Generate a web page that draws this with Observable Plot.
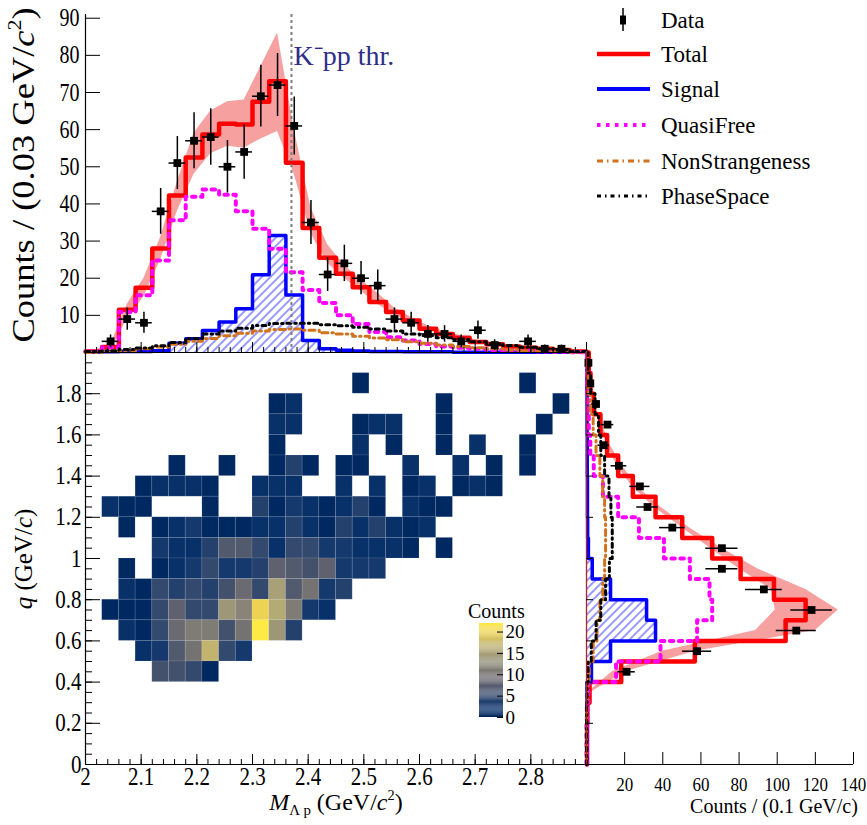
<!DOCTYPE html>
<html><head><meta charset="utf-8">
<script src="https://cdn.jsdelivr.net/npm/d3@7"></script>
<script src="https://cdn.jsdelivr.net/npm/@observablehq/plot@0.6"></script>
<style>
body{margin:0;background:#fff;}
#wrap{position:relative;width:867px;height:825px;overflow:hidden;font-family:'Liberation Serif','Times New Roman',serif;background:#fff;}
.t{position:absolute;white-space:nowrap;color:#000;line-height:1;font-family:'Liberation Serif','Times New Roman',serif;}
</style></head><body><div id="wrap"></div>
<script>
// ---------------- data ----------------
// M(Λp) projection: 30 bins of 0.03 GeV/c^2 from 2.00 to 2.90
const mCenters = [2.015,2.045,2.075,2.105,2.135,2.165,2.195,2.225,2.255,2.285,2.315,2.345,2.375,2.405,2.435,2.465,2.495,2.525,2.555,2.585,2.615,2.645,2.675,2.705,2.735,2.765,2.795,2.825,2.855,2.885];
const mData      = [0,3,9,8,38,51,57,58,50,54,69,72,61,35,21,24,20,18,9,8,5,5,3,6,2,0,3,1,1,0];
const mTotal     = [0.3,1.5,11.5,17.4,28,42.3,52.5,58.7,61.6,61.4,67.5,73,51.1,33.5,25.5,21.2,17.6,13.6,10.9,8.6,6.4,5.0,4.0,2.8,2.2,1.6,1.3,1.0,0.7,0.3];
const mBandLo    = [0,0.5,9,15,25,38,48,53.5,55.5,55,57.5,59.5,48,32,24,20,16.5,13,10,8,6,4.5,3.5,2.5,1.9,1.4,1.1,0.8,0.5,0.1];
const mBandHi    = [0.5,2,13,20,31,46,59,65,67.5,68,77,86,60,39,29,23.5,19.5,16,12,9.5,7.2,5.6,4.5,3.2,2.6,1.9,1.5,1.2,0.9,0.5];
const mSignal    = [0.1,0.2,0.3,0.3,0.5,2.5,3.7,5.9,8.2,11.8,20.9,31.5,15.5,3.2,1.0,0.6,0.4,0.3,0.3,0.2,0.2,0.2,0.1,0.1,0.1,0.1,0.1,0.1,0.1,0.1];
const mQuasiFree = [0.3,1.4,10.9,15.4,24.8,35.6,41.9,43.9,42.5,38.0,33.3,27.9,21.6,16.8,13.3,10,7.7,5.5,4.1,3.2,2.3,1.6,1.3,1.0,0.7,0.5,0.4,0.3,0.2,0.1];
const mNonStrange= [0,0.2,0.5,1.0,1.5,2.2,3.0,3.8,4.5,5.2,5.8,6.2,6.3,6.0,5.3,5.0,4.4,3.9,3.4,2.9,2.5,2.0,1.6,1.3,1.0,0.7,0.5,0.3,0.2,0.1];
const mPhaseSpace= [0.3,0.5,0.8,1.2,1.8,2.7,3.8,5.0,5.8,6.5,7.3,7.8,7.9,7.9,7.5,7.2,6.8,6.3,5.8,5.0,4.6,4.0,3.5,2.9,2.4,1.9,1.4,1.0,0.7,0.3];

// q projection: 20 bins of 0.1 GeV/c from 0 to 2
const qCenters = [0.05,0.15,0.25,0.35,0.45,0.55,0.65,0.75,0.85,0.95,1.05,1.15,1.25,1.35,1.45,1.55,1.65,1.75,1.85,1.95];
const qData      = [0,0,0,0,21,58,110,118,93,71,71,45,32,28,17,9,11,5,2,1];
const qTotal     = [0.3,0.3,0.5,1.6,18.2,56.8,104.4,114.9,98.3,80.8,65.9,50.2,36.2,24.3,16.6,10.8,7.3,3.8,2.1,1.2];
const qBandLo    = [0,0,0.2,0.8,13.5,39.7,88.7,99,97,80,65,50,35.3,24,16,10.8,7.3,3.8,2,1];
const qBandHi    = [0.5,0.5,0.8,2.0,20.5,57.2,120,132,115,89.6,71,53.7,38.8,26.6,18.7,12.5,8.2,4.6,2.4,1.4];
const qSignal    = [0.2,0.2,0.2,0.3,2.6,12.6,36.2,31.5,12.6,3.0,1.0,0.6,0.5,0.5,0.4,0.4,0.3,0.3,0.2,0.2];
const qQuasiFree = [0,0,0.2,1.0,15.5,38.8,58,65.9,64.5,54.2,40.6,27.5,16.6,8.6,3.8,2.0,1.2,0.6,0.3,0.2];
const qNonStrange= [0,0,0.1,0.5,1.5,3.5,5.5,7,8.5,9.5,10,10,9.5,8.5,7,5,3.5,2,1,0.3];
const qPhaseSpace= [0,0,0,0.3,0.8,2.5,5,7.5,10,12,13.5,13.5,12.8,11.8,9.5,7.5,6.3,4.5,2.2,0.8];

// 2D histogram counts: rows from q = 1.9-2.0 (top) down to q = 0.0-0.1, 30 M bins each
const hist2d = [
 [0,0,0,0,0,0,0,0,0,0, 0,0,0,0,0,0,0,0,0,0, 0,0,0,0,0,0,0,0,0,0],
 [0,0,0,0,0,0,0,0,0,0, 0,0,0,0,0,0,1,0,0,0, 0,0,0,0,0,0,1,0,0,0],
 [0,0,0,0,0,0,0,0,0,0, 0,1,2,0,0,0,0,0,0,0, 0,1,0,0,0,0,0,0,1,0],
 [0,0,0,0,0,0,0,0,0,0, 0,2,2,0,0,0,1,2,2,0, 0,1,0,0,0,0,0,1,0,0],
 [0,0,0,0,0,0,0,0,0,0, 0,1,0,0,0,0,2,0,1,0, 0,1,0,2,0,0,1,0,0,0],
 [0,0,0,0,0,1,0,0,1,0, 0,1,4,1,0,1,1,0,0,2, 0,0,2,0,1,0,1,0,0,0],
 [0,0,0,1,2,2,2,1,0,0, 2,2,2,0,0,2,0,2,0,1, 2,0,1,2,1,0,0,0,0,0],
 [0,2,1,1,0,0,0,1,0,0, 4,1,3,2,1,2,4,1,0,2, 1,1,0,0,0,0,0,0,0,0],
 [0,0,1,0,1,2,3,1,1,1, 2,2,4,2,1,4,2,4,2,1, 2,0,0,0,0,0,0,0,0,0],
 [0,0,0,0,3,2,2,4,7,7, 5,2,5,5,3,3,2,2,2,1, 0,1,0,0,0,0,0,0,0,0],
 [0,0,1,0,1,2,3,5,3,3, 4,8,7,6,8,3,3,3,0,0, 0,0,0,0,0,0,0,0,0,0],
 [0,0,2,1,5,4,5,4,6,9, 5,15,7,10,3,4,0,0,0,0, 0,0,0,0,0,0,0,0,0,0],
 [0,1,1,1,5,8,5,5,14,12, 20,16,11,3,2,0,0,0,0,0, 0,0,0,0,0,0,0,0,0,0],
 [0,0,2,1,5,9,11,11,6,10, 22,14,4,0,0,0,0,0,0,0, 0,0,0,0,0,0,0,0,0,0],
 [0,0,0,2,3,7,10,17,5,3, 0,0,0,0,0,0,0,0,0,0, 0,0,0,0,0,0,0,0,0,0],
 [0,0,0,0,6,6,5,1,0,0, 0,0,0,0,0,0,0,0,0,0, 0,0,0,0,0,0,0,0,0,0],
 [0,0,0,0,0,0,0,0,0,0, 0,0,0,0,0,0,0,0,0,0, 0,0,0,0,0,0,0,0,0,0],
 [0,0,0,0,0,0,0,0,0,0, 0,0,0,0,0,0,0,0,0,0, 0,0,0,0,0,0,0,0,0,0],
 [0,0,0,0,0,0,0,0,0,0, 0,0,0,0,0,0,0,0,0,0, 0,0,0,0,0,0,0,0,0,0],
 [0,0,0,0,0,0,0,0,0,0, 0,0,0,0,0,0,0,0,0,0, 0,0,0,0,0,0,0,0,0,0]
];

// ticks and labels
const topYTicks  = [10,20,30,40,50,60,70,80,90];
const mMajorTicks= [2.0,2.1,2.2,2.3,2.4,2.5,2.6,2.7,2.8,2.9];
const mLabelTicks= [2,2.1,2.2,2.3,2.4,2.5,2.6,2.7,2.8];
const mMinorTicks= d3.range(0, 46).map(k => 2 + 0.02 * k);
const qLabelTicks= [0,0.2,0.4,0.6,0.8,1,1.2,1.4,1.6,1.8];
const qMinorTicks= d3.range(0, 41).map(k => 0.05 * k);
const cntTicks   = [20,40,60,80,100,120,140];
const zTicks     = [0,5,10,15,20];
const threshold  = 2.370;
const thrLabel   = "K\u207Bpp thr.";
const legendNames= ["Data","Total","Signal","QuasiFree","NonStrangeness","PhaseSpace"];

// ---------------- styles ----------------
const FONT = "'Liberation Serif','Times New Roman',serif";
const C = {total:"#ff0000", signal:"#0000ff", qf:"#ff00ff", ns:"#d2721c", ps:"#000000", band:"#f6a0a0", thr:"#7f7f7f", thrText:"#2e2e86"};
const DASH = {qf:"3.5,5.5", ns:"6,4,1.5,4", ps:"4,4,1.5,4"};
const zDomain = [0, 22];

// ---------------- helpers ----------------
function stepPts(centers, values, half) {
  return centers.flatMap((c, i) => [{p: c - half, v: values[i]}, {p: c + half, v: values[i]}]);
}
function bandRows(centers, lo, hi) { return centers.map((c, i) => ({c, lo: lo[i], hi: hi[i]})); }
function pts(centers, values) { return centers.map((c, i) => ({c, v: values[i]})).filter(d => d.v > 0); }
function addHatch(svg, id) {
  const defs = d3.select(svg).insert("defs", ":first-child");
  const p = defs.append("pattern").attr("id", id).attr("patternUnits", "userSpaceOnUse")
    .attr("width", 6).attr("height", 6).attr("patternTransform", "rotate(45)");
  p.append("line").attr("x1", 3).attr("y1", -1).attr("x2", 3).attr("y2", 7)
    .attr("stroke", "#2020ff").attr("stroke-width", 0.9);
}
function stretchText(svg, selector, s) {
  svg.querySelectorAll(selector).forEach(t => {
    const tr = t.getAttribute("transform");
    if (tr) t.setAttribute("transform", tr + ` scale(1,${s})`);
    else {
      const x = +t.getAttribute("x") || 0, y = +t.getAttribute("y") || 0;
      t.setAttribute("transform", `translate(${x},${y}) scale(1,${s}) translate(${-x},${-y})`);
    }
  });
}
const wrap = document.getElementById("wrap");
function place(svg, left, top) {
  svg.setAttribute("font-family", FONT);
  svg.style.fontFamily = FONT;
  svg.querySelectorAll("text").forEach(t => t.style.fontFamily = FONT);
  svg.style.position = "absolute";
  svg.style.left = left + "px";
  svg.style.top = top + "px";
  svg.style.overflow = "visible";
  svg.style.background = "transparent";
  svg.style.maxWidth = "none";
  wrap.appendChild(svg);
}
function html(content, css) {
  const d = document.createElement("div");
  d.className = "t";
  d.innerHTML = content;
  Object.assign(d.style, css);
  wrap.appendChild(d);
}

// ---------------- top panel: M projection ----------------
const topW = 600, topH = 360, L = 85, R = 14, T = 14, B = 8;
const topFW = topW - L - R, topFH = topH - T - B;
const mSig = stepPts(mCenters, mSignal, 0.015);
const mP = pts(mCenters, mData);
const topPlot = Plot.plot({
  width: topW, height: topH, marginLeft: L, marginRight: R, marginTop: T, marginBottom: B,
  x: {domain: [2.0, 2.9], axis: null}, y: {domain: [0, 91], axis: null},
  style: {background: "transparent", fontFamily: FONT, overflow: "visible"},
  marks: [
    Plot.areaY(bandRows(mCenters, mBandLo, mBandHi), {x: "c", y1: "lo", y2: "hi", fill: C.band}),
    Plot.line(stepPts(mCenters, mTotal, 0.015), {x: "p", y: "v", stroke: C.total, strokeWidth: 4.5}),
    Plot.areaY(mSig, {x: "p", y1: 0, y2: "v", fill: "url(#hatchTop)"}),
    Plot.line(mSig, {x: "p", y: "v", stroke: C.signal, strokeWidth: 3.5}),
    Plot.line(stepPts(mCenters, mQuasiFree, 0.015), {x: "p", y: "v", stroke: C.qf, strokeWidth: 4, strokeDasharray: DASH.qf}),
    Plot.line(stepPts(mCenters, mNonStrange, 0.015), {x: "p", y: "v", stroke: C.ns, strokeWidth: 3, strokeDasharray: DASH.ns}),
    Plot.line(stepPts(mCenters, mPhaseSpace, 0.015), {x: "p", y: "v", stroke: C.ps, strokeWidth: 3, strokeDasharray: DASH.ps}),
    Plot.ruleX([threshold], {stroke: C.thr, strokeWidth: 2, strokeDasharray: "3,3"}),
    Plot.text([thrLabel], {x: threshold, frameAnchor: "top", text: d => d, textAnchor: "start", dx: 2, dy: 31, fontSize: 28, fill: C.thrText, fontFamily: FONT}),
    Plot.ruleX(mP, {x: "c", y1: d => Math.max(0, d.v - Math.sqrt(d.v)), y2: d => d.v + Math.sqrt(d.v), stroke: "#000", strokeWidth: 1.5}),
    Plot.ruleY(mP, {y: "v", x1: d => d.c - 0.015, x2: d => d.c + 0.015, stroke: "#000", strokeWidth: 1.5}),
    Plot.dot(mP, {x: "c", y: "v", symbol: "square", r: 4.4, fill: "#000", stroke: null}),
    Plot.ruleX([2.0], {stroke: "#000", strokeWidth: 1.2}),
    Plot.ruleY([0], {stroke: "#000", strokeWidth: 1.2}),
    Plot.ruleY(topYTicks, {stroke: "#000", insetRight: topFW - 15}),
    Plot.ruleX(mMinorTicks, {stroke: "#000", insetTop: topFH - 5}),
    Plot.ruleX(mMajorTicks, {stroke: "#000", insetTop: topFH - 10}),
    Plot.axisY({ticks: topYTicks, tickSize: 0, tickPadding: 6, fontSize: 20, fontFamily: FONT, label: null})
  ]
});
addHatch(topPlot, "hatchTop");
stretchText(topPlot, "g[aria-label='y-axis tick label'] text", 1.25);
place(topPlot, 0, 0);

// ---------------- 2D histogram ----------------
const midTop = 340, midH = 485, midT = 12, midB = midH - (764 - midTop);
const midFH = midH - midT - midB;
const cells = [];
hist2d.forEach((row, k) => {
  const j = hist2d.length - 1 - k;
  row.forEach((v, i) => {
    if (v > 0) cells.push({x1: 2 + 0.03 * i, x2: 2 + 0.03 * (i + 1), y1: 0.1 * j, y2: 0.1 * (j + 1), v});
  });
});
const midPlot = Plot.plot({
  width: topW, height: midH, marginLeft: L, marginRight: R, marginTop: midT, marginBottom: midB,
  x: {domain: [2.0, 2.9], axis: null}, y: {domain: [0, 2.0], axis: null},
  color: {type: "linear", scheme: "cividis", domain: zDomain},
  style: {background: "transparent", fontFamily: FONT, overflow: "visible"},
  marks: [
    Plot.rect(cells, {x1: "x1", x2: "x2", y1: "y1", y2: "y2", fill: "v", stroke: "#ffffff", strokeOpacity: 0.12, strokeWidth: 0.8}),
    Plot.ruleX([2.0], {stroke: "#000", strokeWidth: 1.2}),
    Plot.ruleY([0], {stroke: "#000", strokeWidth: 1.2}),
    Plot.ruleY(qMinorTicks, {stroke: "#000", insetRight: topFW - 7}),
    Plot.ruleY(qLabelTicks, {stroke: "#000", insetRight: topFW - 15}),
    Plot.ruleX(mMinorTicks, {stroke: "#000", insetTop: midFH - 5}),
    Plot.ruleX(mMajorTicks, {stroke: "#000", insetTop: midFH - 10}),
    Plot.axisY({ticks: qLabelTicks, tickFormat: d => String(d), tickSize: 0, tickPadding: 4, fontSize: 21, fontFamily: FONT, label: null}),
    Plot.axisX({ticks: mLabelTicks, tickFormat: d => String(d), tickSize: 0, tickPadding: 3, fontSize: 21, fontFamily: FONT, label: null})
  ]
});
stretchText(midPlot, "g[aria-label='y-axis tick label'] text", 1.2);
stretchText(midPlot, "g[aria-label='x-axis tick label'] text", 1.2);
place(midPlot, 0, midTop);

// ---------------- colour bar ----------------
const cbGrad = d3.range(0, 22, 0.25);
const cbPlot = Plot.plot({
  width: 70, height: 114, marginLeft: 0, marginRight: 46, marginTop: 10, marginBottom: 10,
  x: {axis: null}, y: {domain: zDomain, axis: null},
  color: {type: "linear", scheme: "cividis", domain: zDomain},
  style: {background: "transparent", fontFamily: FONT, overflow: "visible"},
  marks: [
    Plot.rect(cbGrad, {y1: d => d, y2: d => d + 0.25, fill: d => d + 0.125}),
    Plot.ruleY(zTicks, {stroke: "#000", insetLeft: 18}),
    Plot.axisY({anchor: "right", ticks: zTicks, tickSize: 0, tickPadding: 2, fontSize: 19, fontFamily: FONT, label: null})
  ]
});
place(cbPlot, 479, 613);
html("Counts", {left: "468px", top: "601px", fontSize: "20px"});

// ---------------- right panel: q projection ----------------
const rW = 307, rL = 26, rR = 14;
const rFW = rW - rL - rR;
const qSig = stepPts(qCenters, qSignal, 0.05);
const qP = pts(qCenters, qData);
const rightPlot = Plot.plot({
  width: rW, height: midH, marginLeft: rL, marginRight: rR, marginTop: midT, marginBottom: midB,
  x: {domain: [0, 140], axis: null}, y: {domain: [0, 2.0], axis: null},
  style: {background: "transparent", fontFamily: FONT, overflow: "visible"},
  marks: [
    Plot.areaX(bandRows(qCenters, qBandLo, qBandHi), {y: "c", x1: "lo", x2: "hi", fill: C.band}),
    Plot.line(stepPts(qCenters, qTotal, 0.05), {x: "v", y: "p", stroke: C.total, strokeWidth: 4.5}),
    Plot.areaX(qSig, {y: "p", x1: 0, x2: "v", fill: "url(#hatchRight)"}),
    Plot.line(qSig, {x: "v", y: "p", stroke: C.signal, strokeWidth: 3.5}),
    Plot.line(stepPts(qCenters, qQuasiFree, 0.05), {x: "v", y: "p", stroke: C.qf, strokeWidth: 4, strokeDasharray: DASH.qf}),
    Plot.line(stepPts(qCenters, qNonStrange, 0.05), {x: "v", y: "p", stroke: C.ns, strokeWidth: 3, strokeDasharray: DASH.ns}),
    Plot.line(stepPts(qCenters, qPhaseSpace, 0.05), {x: "v", y: "p", stroke: C.ps, strokeWidth: 3, strokeDasharray: DASH.ps}),
    Plot.ruleY(qP, {y: "c", x1: d => Math.max(0, d.v - Math.sqrt(d.v)), x2: d => d.v + Math.sqrt(d.v), stroke: "#000", strokeWidth: 1.5}),
    Plot.dot(qP, {x: "v", y: "c", symbol: "square", r: 4.4, fill: "#000", stroke: null}),
    Plot.ruleX([0], {stroke: "#b22222", strokeWidth: 1.3}),
    Plot.ruleY([0], {stroke: "#000", strokeWidth: 1.2}),
    Plot.ruleY(qLabelTicks, {stroke: "#000", insetRight: rFW - 7}),
    Plot.ruleX(cntTicks, {stroke: "#000", insetTop: midFH - 12}),
    Plot.axisX({ticks: cntTicks, tickSize: 0, tickPadding: 13, fontSize: 17, fontFamily: FONT, label: null})
  ]
});
addHatch(rightPlot, "hatchRight");
stretchText(rightPlot, "g[aria-label='x-axis tick label'] text", 1.15);
place(rightPlot, 560, midTop);

// ---------------- axis titles ----------------
html("Counts / (0.03 GeV/<i>c</i><sup style='font-size:0.6em;vertical-align:0.7em'>2</sup>)",
  {left: "22px", top: "175px", fontSize: "32px", transform: "translate(-50%,-50%) rotate(-90deg) scaleX(1.14)"});
html("<i>q</i> (GeV/<i>c</i>)",
  {left: "23px", top: "559px", fontSize: "25px", transform: "translate(-50%,-50%) rotate(-90deg)"});
html("<i>M</i><sub style='font-size:0.62em;vertical-align:-0.35em'>&Lambda; p</sub> (GeV/<i>c</i><sup style='font-size:0.6em;vertical-align:0.7em'>2</sup>)",
  {left: "336px", top: "803px", fontSize: "24px", transform: "translate(-50%,-50%)"});
html("Counts / (0.1 GeV/c)",
  {left: "774px", top: "806px", fontSize: "20px", transform: "translate(-50%,-50%)"});

// ---------------- legend ----------------
const leg = d3.create("svg").attr("width", 277).attr("height", 215).node();
const lg = d3.select(leg);
const rowsY = [20, 54, 89, 125, 161, 196];
const styles = [null,
  {stroke: C.total, w: 4.5, dash: null},
  {stroke: C.signal, w: 4, dash: null},
  {stroke: C.qf, w: 4, dash: DASH.qf},
  {stroke: C.ns, w: 3, dash: DASH.ns},
  {stroke: C.ps, w: 3, dash: DASH.ps}];
legendNames.forEach((name, i) => {
  const y = rowsY[i];
  if (i === 0) {
    lg.append("line").attr("x1", 33).attr("x2", 33).attr("y1", y - 12).attr("y2", y + 11).attr("stroke", "#000").attr("stroke-width", 1.5);
    lg.append("rect").attr("x", 30).attr("y", y - 4.5).attr("width", 6).attr("height", 9).attr("fill", "#000");
  } else {
    const s = styles[i];
    lg.append("line").attr("x1", 7).attr("x2", 60).attr("y1", y).attr("y2", y)
      .attr("stroke", s.stroke).attr("stroke-width", s.w).attr("stroke-dasharray", s.dash);
  }
  lg.append("text").attr("x", 71).attr("y", y).attr("dy", "0.35em")
    .attr("font-size", 23).attr("fill", "#000").text(name);
});
place(leg, 590, 0);
</script></body></html>
